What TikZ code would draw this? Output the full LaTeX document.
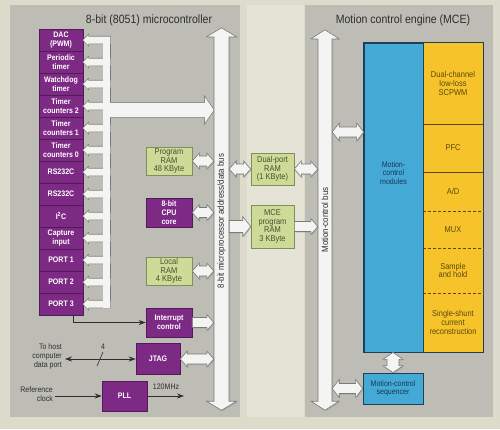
\documentclass[tikz,border=0pt]{standalone}
\usepackage{fontspec}
\setmainfont{Liberation Sans}[FakeStretch=0.88]
\usetikzlibrary{arrows.meta,calc,shadows}

\definecolor{bg}{HTML}{DCDBCC}
\definecolor{strip}{HTML}{E4E3D6}
\definecolor{panel}{HTML}{BDBDB5}
\definecolor{purp}{HTML}{7D2A85}
\definecolor{purpd}{HTML}{55185C}
\definecolor{grn}{HTML}{CEDB98}
\definecolor{grnd}{HTML}{7F8F5A}
\definecolor{grnt}{HTML}{45502E}
\definecolor{blu}{HTML}{45A9D6}
\definecolor{blud}{HTML}{1E3F55}
\definecolor{blut}{HTML}{17375A}
\definecolor{yel}{HTML}{F6C32A}
\definecolor{yelt}{HTML}{5C4810}
\definecolor{busfill}{HTML}{F4F4F2}
\definecolor{busline}{HTML}{7A7A7A}
\definecolor{ink}{HTML}{2E2E2E}

\newcommand\fs[2]{\fontsize{#1}{#2}\selectfont}

% horizontal double fat arrow: opts, left pt, right pt, body half, head half, head length
\newcommand\fatH[6]{\draw[#1] let \p1=#2, \p2=#3 in (\x1,\y1) -- (\x1+#6,\y1+#5) -- (\x1+#6,\y1+#4) -- (\x2-#6,\y1+#4) -- (\x2-#6,\y1+#5) -- (\x2,\y1) -- (\x2-#6,\y1-#5) -- (\x2-#6,\y1-#4) -- (\x1+#6,\y1-#4) -- (\x1+#6,\y1-#5) -- cycle;}
% horizontal single fat arrow pointing right
\newcommand\fatR[6]{\draw[#1] let \p1=#2, \p2=#3 in (\x1,\y1+#4) -- (\x2-#6,\y1+#4) -- (\x2-#6,\y1+#5) -- (\x2,\y1) -- (\x2-#6,\y1-#5) -- (\x2-#6,\y1-#4) -- (\x1,\y1-#4) -- cycle;}
% vertical double fat arrow: opts, top pt, bottom pt, body half, head half, head length
\newcommand\fatV[6]{\draw[#1] let \p1=#2, \p2=#3 in (\x1,\y1) -- (\x1+#5,\y1-#6) -- (\x1+#4,\y1-#6) -- (\x1+#4,\y2+#6) -- (\x1+#5,\y2+#6) -- (\x1,\y2) -- (\x1-#5,\y2+#6) -- (\x1-#4,\y2+#6) -- (\x1-#4,\y1-#6) -- (\x1-#5,\y1-#6) -- cycle;}

\newcommand\combparts[1]{%
  \foreach \bx in {dac,per,wdt,tc2,tc1,tc0,rsa,rsb,iic,cap,po1,po2,po3}{
    \path[#1] let \p1=(\bx.east) in (\x1,\y1) -- (\x1+5pt,\y1+5pt) -- (\x1+5pt,\y1+3.5pt) -- (\x1+27pt,\y1+3.5pt) -- (\x1+27pt,\y1-3.5pt) -- (\x1+5pt,\y1-3.5pt) -- (\x1+5pt,\y1-5pt) -- cycle;
  }
  \path[#1] let \p1=(dac.east), \p2=(po3.east) in (\x1+20pt,\y1+3.5pt) rectangle (\x1+27pt,\y2-3.5pt);
  \path[#1] let \p1=(cmbout), \p2=(bus.west) in (\x1-3pt,\y1+7pt) -- (\x2-9pt,\y1+7pt) -- (\x2-9pt,\y1+13pt) -- (\x2,\y1) -- (\x2-9pt,\y1-13pt) -- (\x2-9pt,\y1-7pt) -- (\x1-3pt,\y1-7pt) -- cycle;
}

\tikzset{
  pbox/.style={fill=purp, draw=purpd, line width=0.5pt, text=white, font=\fs{8}{8.6}\bfseries, align=center, inner sep=0pt, minimum width=44pt, minimum height=22pt},
  gbox/.style={fill=grn, draw=grnd, line width=0.6pt, text=grnt, font=\fs{8.5}{8.4}, align=center, inner sep=0pt},
  ycell/.style={fill=yel, inner sep=0pt, minimum width=60pt, text=yelt, font=\fs{8.5}{8.6}, align=center},
  bcell/.style={fill=blu, draw=blud, line width=0.7pt, inner sep=0pt, text=blut, font=\fs{8}{8.6}, align=center},
  fat/.style={fill=busfill, draw=busline, line width=0.6pt, drop shadow={shadow xshift=1pt, shadow yshift=-1pt, opacity=0.3}},
  conn/.style={draw=ink, line width=0.8pt},
  tip/.style={-{Stealth[length=7pt,width=5pt]}},
  dtip/.style={{Stealth[length=7pt,width=5pt]}-{Stealth[length=7pt,width=5pt]}},
  lbl/.style={text=ink, font=\fs{8}{9}, inner sep=0pt},
  title/.style={text=ink, font=\fs{12}{13}, inner sep=0pt},
  buslbl/.style={text=ink, font=\fs{9}{10}, inner sep=0pt, rotate=90}
}

\begin{document}
\begin{tikzpicture}[x=1pt,y=-1pt]
\useasboundingbox (0,0) rectangle (500,429);
\fill[bg] (0,0) rectangle (500,429);
\fill[panel] (10,5) rectangle (240,417);
\fill[strip] (247,5) rectangle (304,417);
\fill[panel] (305,5) rectangle (493,417);

\node[title] (t1) at (149,20) {8-bit (8051) microcontroller};
\node[title] (t2) at (403,20) {Motion control engine (MCE)};

% peripheral column
\node[pbox] (dac) at (61,40)  {DAC\\(PWM)};
\node[pbox] (per) at (61,62)  {Periodic\\timer};
\node[pbox] (wdt) at (61,84)  {Watchdog\\timer};
\node[pbox] (tc2) at (61,106) {Timer\\counters 2};
\node[pbox] (tc1) at (61,128) {Timer\\counters 1};
\node[pbox] (tc0) at (61,150) {Timer\\counters 0};
\node[pbox] (rsa) at (61,172) {RS232C};
\node[pbox] (rsb) at (61,194) {RS232C};
\node[pbox] (iic) at (61,216) {I\textsuperscript{2}C};
\node[pbox] (cap) at (61,238) {Capture\\input};
\node[pbox] (po1) at (61,260) {PORT 1};
\node[pbox] (po2) at (61,282) {PORT 2};
\node[pbox] (po3) at (61,304) {PORT 3};

% buses (geometry holders)
\node[inner sep=0pt, minimum width=15pt, minimum height=382pt] (bus) at (221.5,219) {};
\node[inner sep=0pt, minimum width=14pt, minimum height=380pt] (mbus) at (325,220) {};
\coordinate (cmbout) at (110,110);

% core blocks
\node[gbox, minimum width=46pt, minimum height=28pt] (prog) at (169,161) {Program\\RAM\\48 KByte};
\node[pbox, minimum width=46pt, minimum height=29pt, font=\fs{8}{9}\bfseries] (cpu) at (169,212.5) {8-bit\\CPU\\core};
\node[gbox, minimum width=46pt, minimum height=28pt] (lram) at (169,271) {Local\\RAM\\4 KByte};
\node[pbox, minimum width=46pt, minimum height=29pt, font=\fs{8}{9}\bfseries] (intc) at (169,322.5) {Interrupt\\control};
\node[pbox, minimum width=44pt, minimum height=31pt] (jtag) at (158,359) {JTAG};
\node[pbox, minimum width=45pt, minimum height=30pt] (pll) at (124.5,396) {PLL};

\node[gbox, minimum width=43pt, minimum height=32pt] (dpram) at (272.5,169) {Dual-port\\RAM\\(1 KByte)};
\node[gbox, minimum width=43pt, minimum height=43pt] (mceram) at (272.5,226.5) {MCE\\program\\RAM\\3 KByte};

% MCE
\node[bcell, minimum width=59pt, minimum height=309pt] (mods) at (393.5,197.5) {};
\node[text=blut, font=\fs{8}{8.6}, align=center, inner sep=0pt] (modtxt) at (393.5,173) {Motion-\\control\\modules};
\node[ycell, minimum height=81pt] (scpwm) at (453,83.5) {Dual-channel\\low-loss\\SCPWM};
\node[ycell, minimum height=48pt] (pfc) at (453,148) {PFC};
\node[ycell, minimum height=39pt] (ad) at (453,191.5) {A/D};
\node[ycell, minimum height=37pt] (mux) at (453,229.5) {MUX};
\node[ycell, minimum height=45pt] (sh) at (453,270.5) {Sample\\and hold};
\node[ycell, minimum height=59pt] (ssc) at (453,322.5) {Single-shunt\\current\\reconstruction};
\draw[blud, line width=0.8pt] (mods.north west) rectangle (ssc.south east);
\draw[blud, line width=0.8pt] (mods.north east) -- (mods.south east);
\draw[yelt, line width=0.8pt] (scpwm.south west) -- (scpwm.south east);
\draw[yelt, line width=0.8pt] (pfc.south west) -- (pfc.south east);
\draw[yelt, line width=0.7pt, dash pattern=on 3pt off 2pt] (ad.south west) -- (ad.south east);
\draw[yelt, line width=0.7pt, dash pattern=on 3pt off 2pt] (mux.south west) -- (mux.south east);
\draw[yelt, line width=0.7pt, dash pattern=on 3pt off 2pt] (sh.south west) -- (sh.south east);
\node[bcell, minimum width=60pt, minimum height=31pt] (seq) at (393,388.5) {Motion-control\\sequencer};

% comb bus of peripherals
\combparts{fill=busline, draw=busline, line width=1.3pt}
\combparts{fill=busfill}

% main buses
\fatV{fat}{(bus.north)}{(bus.south)}{7.5pt}{15pt}{9pt}
\fatV{fat}{(mbus.north)}{(mbus.south)}{7pt}{14pt}{9pt}
\node[buslbl] (buslabel) at (221.5,221) {8-bit microprocessor address/data bus};
\node[buslbl] (mbuslabel) at (325,220) {Motion-control bus};

% fat connectors
\fatH{fat}{(prog.east)}{(bus.west)}{5pt}{8pt}{7pt}
\fatH{fat}{(cpu.east)}{(bus.west)}{5pt}{8pt}{7pt}
\fatH{fat}{(lram.east)}{(bus.west)}{5pt}{8pt}{7pt}
\fatR{fat}{(intc.east)}{(bus.west)}{5pt}{8pt}{7pt}
\fatH{fat}{(jtag.east)}{(bus.west)}{5pt}{8pt}{7pt}
\fatH{fat}{(bus.east |- dpram.west)}{(dpram.west)}{5pt}{8pt}{7pt}
\fatH{fat}{(dpram.east)}{(mbus.west)}{5pt}{8pt}{7pt}
\fatR{fat}{(bus.east |- mceram.west)}{(mceram.west)}{6pt}{10pt}{8pt}
\fatR{fat}{(mceram.east)}{(mbus.west)}{5pt}{8pt}{7pt}
\coordinate (mm) at (0,132);
\fatH{fat}{(mbus.east |- mm)}{(mods.west |- mm)}{5pt}{9pt}{7pt}
\fatH{fat}{(mbus.east |- seq.west)}{(seq.west)}{5pt}{9pt}{7pt}
\fatV{fat}{(seq.north |- mods.south)}{(seq.north)}{6pt}{10pt}{7pt}

% thin connectors
\draw[conn, tip] ([xshift=12pt]po3.south) |- (intc.west);
\coordinate (host) at (65,359);
\draw[conn, dtip] (host) -- (jtag.west);
\coordinate (sl) at (100,359);
\draw[conn, line width=0.6pt] ([shift={(-3,7)}]sl) -- ([shift={(3,-7)}]sl);
\node[lbl] (four) at (103,347) {4};
\node[lbl, anchor=east, align=right] (hosttxt) at (62,356) {To host\\computer\\data port};
\coordinate (ref) at (55,396);
\draw[conn, tip] (ref) -- (pll.west);
\node[lbl, anchor=east, align=right] (reftxt) at (53,394.5) {Reference\\clock};
\coordinate (pllo) at (184,396);
\draw[conn, tip] (pll.east) -- (pllo);
\node[lbl] (mhz) at (166,387) {120MHz};
\end{tikzpicture}
\end{document}
